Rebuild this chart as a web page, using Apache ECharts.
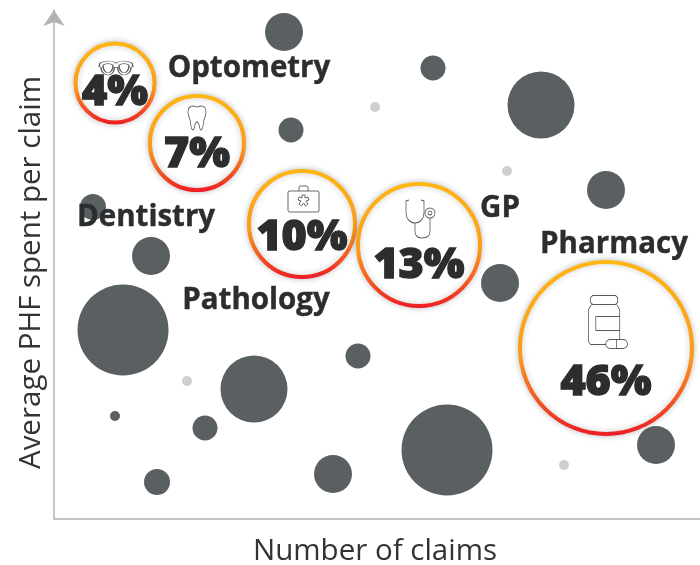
<!DOCTYPE html>
<html><head><meta charset="utf-8">
<style>html,body{margin:0;padding:0;background:#fff}#c{width:700px;height:565px}</style>
<script src="https://cdn.jsdelivr.net/npm/echarts@6/dist/echarts.min.js"></script>
</head><body><div id="c"></div>
<script>
const darkX=[230,379,487,237,552,39,97,446,69,304,200,61,151,103,279,393,602];
const darkY=[487,451,414,389,329,312,263,236,189,163,130,103,91,37,45,69,74];
const darkS=[38,25,67,25,38,26,38,38,91,25,67,10,25,26,38,91,38];
const lightX=[321,453,133,510];
const lightY=[412,348,138,54];
const lightS=[10,10,10,10];
const catNames=['Optometry','Dentistry','Pathology','GP','Pharmacy'];
const catShare=['4%','7%','10%','13%','46%'];
const catX=[61,143,248,365,552];
const catY=[436,376,295,274,171];
const catS=[79,94,106,122,172];
const shareY=[426,364,281,253,136];
const nameX=[195,92,202,446,560];
const nameY=[450,301,218,310,274];
const iconX=[62,143,249.5,366.5,554];
const iconY=[451,401,320,300,197];
const xTitle='Number of claims';
const yTitle='Average PHF spent per claim';

const iconPaths=[
 'path://M1 3 C8 0 14 1 17 3 C20 1 26 0 33 3 L34 6 L32 7 C32 12 28 14 25 14 C21 14 19 11 18.500 7 L15.500 7 C15 11 13 14 9 14 C6 14 2 12 2 7 L0 6 Z M4 5 C4 9 6 12 9 12 C12 12 14 9 14 5 C11 3 7 3 4 5 Z M20 5 C20 9 22 12 25 12 C28 12 30 9 30 5 C27 3 23 3 20 5 Z',
 'path://M5 0 C7 0 8 1 9 1 C10 1 11 0 13 0 C16 0 18 2 18 6 C18 10 16 12 15.500 16 C15.200 19 15 24 13 24 C11 24 12 16 9 16 C6 16 7 24 5 24 C3 24 2.800 19 2.500 16 C2 12 0 10 0 6 C0 2 2 0 5 0 Z',
 'path://M1 5 L30 5 L31 6 L31 25 L30 26 L1 26 L0 25 L0 6 Z M11 5 L11 1 L12 0 L19 0 L20 1 L20 5 M14 9 L17 9 L17 12 L20 11 L21 14 L18 15 L20 18 L17.500 20 L15.500 17 L13.500 20 L11 18 L13 15 L10 14 L11 11 L14 12 Z',
 'path://M3 0 L0 1 L0 12 C0 20 5 23 9 23 C13 23 18 20 18 12 L18 1 L15 0 M9 23 L9 31 C9 36 12 38 16 38 C21 38 24 36 24 31 L24 18 M24 8 A5 5 0 1 0 24 18 A5 5 0 1 0 24 8 Z M24 11 A2 2 0 1 0 24 15 A2 2 0 1 0 24 11 Z',
 'path://M4 0 L26 0 L28 2 L28 7 L26 9 L4 9 L2 7 L2 2 Z M3 9 L0 14 L0 46 L2 49 L17 49 M27 9 L30 14 L30 44 M7 21 L30 21 M7 21 L7 35 L30 35 M21 44 L33 44 A4 4 0 0 1 33 53 L21 53 A4 4 0 0 1 21 44 Z M27 44 L27 53'
];
const iconSizes=[[34,14],[18,24],[31,26],[29,38],[39,53]];

const zip=(xs,ys,ss)=>xs.map((x,i)=>[x,ys[i],ss[i]]);
const fontFam='"Open Sans","Noto Sans",sans-serif';
const ring=new echarts.graphic.LinearGradient(0,0,0,1,[{offset:0,color:'#ffb612'},{offset:.55,color:'#fb9a1a'},{offset:1,color:'#ee1c25'}]);
const textSeries=(xs,ys,labels,size,weight,border)=>({type:'scatter',silent:true,clip:false,z:6,symbolSize:1,itemStyle:{color:'rgba(0,0,0,0)',opacity:1},
  data:labels.map((l,i)=>({name:l,value:[xs[i],ys[i]]})),
  labelLayout:{hideOverlap:false},
  label:{show:true,position:'inside',formatter:'{b}',fontFamily:fontFam,fontSize:size,fontWeight:weight,color:'#2b2d2f',textBorderColor:'#2b2d2f',textBorderWidth:border}});

const series=[
 {type:'scatter',silent:true,clip:false,z:2,data:zip(darkX,darkY,darkS),symbolSize:v=>v[2],itemStyle:{color:'#5a5f62',opacity:1}},
 {type:'scatter',silent:true,clip:false,z:2,data:zip(lightX,lightY,lightS),symbolSize:v=>v[2],itemStyle:{color:'#cfcfcf',opacity:1}},
 {type:'scatter',silent:true,clip:false,z:3,data:zip(catX,catY,catS),symbolSize:v=>v[2],
  itemStyle:{color:'#fff',opacity:1,borderWidth:4,borderColor:ring,shadowBlur:6,shadowColor:'rgba(0,0,0,.22)'}}
];
iconPaths.forEach((p,i)=>series.push({type:'scatter',silent:true,clip:false,z:5,symbol:p,symbolSize:iconSizes[i],symbolKeepAspect:false,
  data:[[iconX[i],iconY[i]]],itemStyle:{color:'rgba(0,0,0,0)',opacity:1,borderColor:'#55595c',borderWidth:0.9}}));
series.push(textSeries(catX,shareY,catShare,43,800,1.4));
series.push(textSeries(nameX,nameY,catNames,29.5,700,0.4));

const axisCommon={type:'value',splitLine:{show:false},axisTick:{show:false},axisLabel:{show:false},nameLocation:'middle'};
const chart=echarts.init(document.getElementById('c'),null,{renderer:'canvas'});
chart.setOption({animation:false,backgroundColor:'#fff',
 grid:{left:54,top:10,width:646,height:509,containLabel:false,outerBoundsMode:'none'},
 xAxis:{...axisCommon,min:0,max:646,name:xTitle,nameGap:18,nameTextStyle:{fontFamily:fontFam,fontSize:29.5,color:'#333',padding:[0,4,0,0]},
  axisLine:{show:true,onZero:false,lineStyle:{color:'#b3b3b3',width:1.5}}},
 yAxis:{...axisCommon,min:0,max:509,name:yTitle,nameGap:7,nameRotate:90,
  nameTextStyle:{fontFamily:fontFam,fontSize:29.5,color:'#333',padding:[0,16,0,0]},
  axisLine:{show:true,onZero:false,symbol:['none','arrow'],symbolSize:[16,16],lineStyle:{color:'#b3b3b3',width:1.5}}},
 series});
</script></body></html>
